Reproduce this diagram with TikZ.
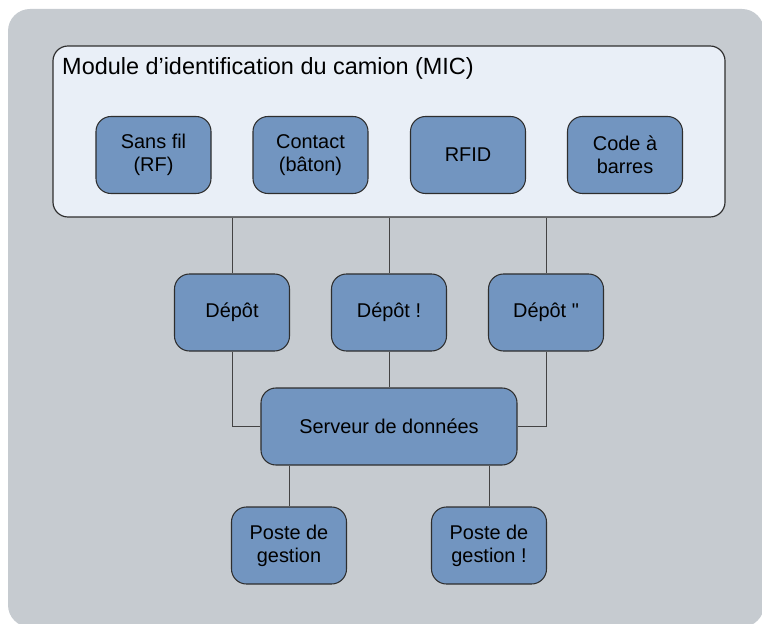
\documentclass[tikz,border=0pt]{standalone}
\usepackage{fontspec}
\setmainfont{Liberation Sans}
\definecolor{fondgris}{HTML}{C6CBD0}
\definecolor{fondmic}{HTML}{E9EFF7}
\definecolor{bleuboite}{HTML}{7295C0}
\definecolor{trait}{HTML}{2E2E2E}
\tikzset{
  boite/.style={draw=trait, line width=0.9pt, fill=bleuboite, rounded corners=0.45cm,
    minimum width=3.45cm, minimum height=2.31cm, align=center, inner sep=2pt,
    font=\fontsize{17}{19.5}\selectfont},
  lien/.style={draw=trait!90, line width=0.75pt}
}
\begin{document}
\begin{tikzpicture}[x=0.03cm, y=-0.03cm]
\useasboundingbox (0,0) rectangle (762,624);
\fill[fondgris, rounded corners=0.66cm] (8,9) rectangle (764,627);

\node[draw=trait, line width=1pt, fill=fondmic, rounded corners=0.45cm,
  minimum width=20.16cm, minimum height=5.13cm] (mic) at (389,131.5) {};
\node[anchor=base west, inner sep=0pt, font=\fontsize{20}{24}\selectfont] (titre) at (62,75)
  {Module d’identification du camion (MIC)};

\foreach \x/\nom/\txt in {153.5/rf/{Sans fil\\(RF)},310.5/contact/{Contact\\(bâton)},468/rfid/RFID,625/code/{Code à\\barres}}
{
    \node[boite] (\nom) at (\x,155) {\txt};
}

\foreach \x/\nom/\txt in {232/depotA/{Dépôt},389/depotB/{Dépôt !},546/depotC/{Dépôt \textquotedbl}}
{
    \node[boite] (\nom) at (\x,312.5) {\txt};
}

\node[boite, minimum width=7.68cm] (serveur) at (389,426.5) {Serveur de données};

\node[boite] (posteA) at (289,545.5) {Poste de\\gestion};
\node[boite] (posteB) at (489,545.5) {Poste de\\gestion !};

\foreach \nom in {depotA,depotB,depotC}
{
    \draw[lien] (mic.south -| \nom) -- (\nom);
}
\draw[lien] (depotA) |- (serveur);
\draw[lien] (depotB) -- (serveur);
\draw[lien] (depotC) |- (serveur);
\foreach \nom in {posteA,posteB}
{
    \draw[lien] (serveur.south -| \nom) -- (\nom);
}
\end{tikzpicture}
\end{document}
